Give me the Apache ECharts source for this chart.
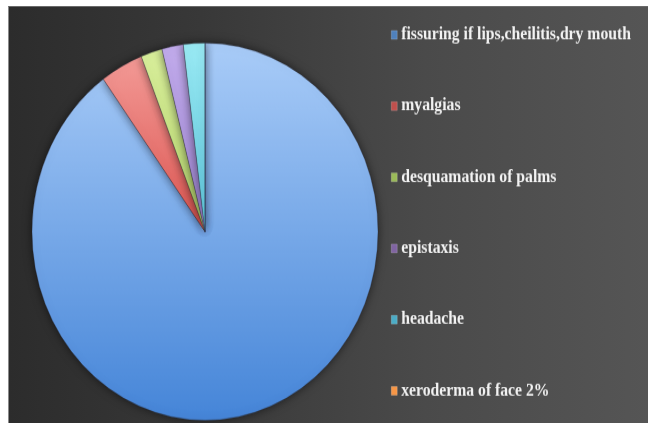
<!DOCTYPE html>
<html>
<head>
<meta charset="utf-8">
<script src="https://cdn.jsdelivr.net/npm/echarts@6/dist/echarts.min.js"></script>
<style>
  html, body { margin: 0; padding: 0; background: #ffffff; }
  #wrap { position: relative; width: 648px; height: 423px; overflow: hidden; }
  #panel {
    position: absolute; left: 8px; top: 6px; right: 0; bottom: 0;
    border-left: 1px solid #8a8a8a; border-top: 1px solid #6a6a6a;
    background: linear-gradient(90deg, #2c2c2c 0%, #383838 30%, #4a4a4a 65%, #555555 100%);
  }
  /* the chart is stretched vertically so the pie reads as a tall ellipse */
  #chart {
    position: absolute; left: 0; top: 0; width: 648px; height: 388px;
    transform: scaleY(1.0902); transform-origin: 0 0;
  }
</style>
</head>
<body>
<div id="wrap">
  <div id="panel"></div>
  <div id="chart"></div>
</div>
<script>
// Side effects, number of patients (n = 50)
const categories = [
  'fissuring if lips,cheilitis,dry mouth',
  'myalgias',
  'desquamation of palms',
  'epistaxis',
  'headache',
  'xeroderma of face 2%'
];
const patients = [45, 2, 1, 1, 1, 0];

// Office-style palette: legend swatch colour, slice top and bottom shades
const swatch = ['#4f81bd', '#c0504d', '#9bbb59', '#8064a2', '#4bacc6', '#f79646'];
const sliceTop = ['#a9ccf8', '#f39a96', '#d9ef9c', '#c2acec', '#9aeaf4', '#fbbf8a'];
const sliceBottom = ['#4585d8', '#dc5450', '#b4d46a', '#9c82d0', '#5cc6dc', '#f08a3c'];

function grad(i) {
  return new echarts.graphic.LinearGradient(0, 0, 0, 1, [
    { offset: 0, color: sliceTop[i] },
    { offset: 1, color: sliceBottom[i] }
  ]);
}

const chart = echarts.init(document.getElementById('chart'), null, { renderer: 'canvas' });

chart.setOption({
  backgroundColor: 'transparent',
  animation: false,
  legend: {
    orient: 'vertical',
    left: 391,
    top: 24,
    padding: 0,
    itemWidth: 6,
    itemHeight: 8,
    itemGap: 49.3,
    icon: 'rect',
    textStyle: {
      color: '#f2f2f2',
      fontFamily: '"Liberation Serif", "DejaVu Serif", serif',
      fontWeight: 'bold',
      fontSize: 15.7,
      lineHeight: 16,
      padding: [0, 0, 0, -1]
    },
    data: categories.map((name, i) => ({
      name: name,
      itemStyle: { color: swatch[i], borderColor: 'rgba(255,255,255,0.35)', borderWidth: 0.5 }
    }))
  },
  series: [{
    type: 'pie',
    center: [205, 212.5],
    radius: [0, 173],
    startAngle: 90,
    clockwise: true,
    minAngle: 0,
    label: { show: false },
    labelLine: { show: false },
    emphasis: { disabled: true },
    itemStyle: {
      borderColor: 'rgba(40,40,60,0.35)',
      borderWidth: 0.8,
      shadowBlur: 10,
      shadowColor: 'rgba(0,0,0,0.55)'
    },
    data: categories.map((name, i) => ({
      name: name,
      value: patients[i],
      itemStyle: { color: grad(i) }
    }))
  }]
});
</script>
</body>
</html>
